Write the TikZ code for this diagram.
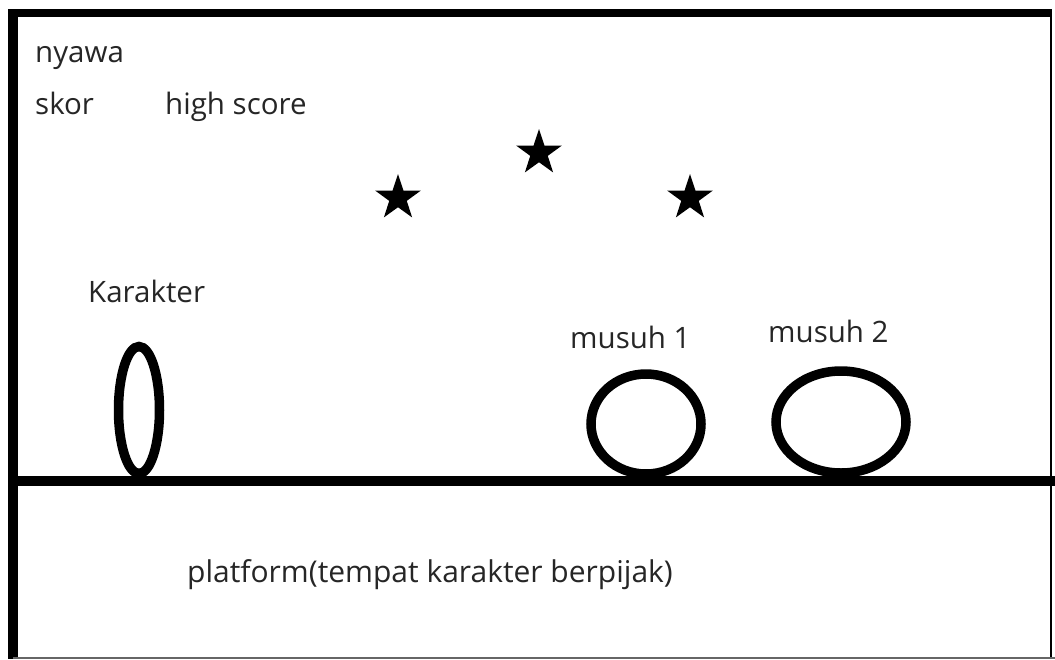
\documentclass[tikz,border=0pt]{standalone}
\usepackage{fontspec}
\usepackage{tikz}
\usetikzlibrary{shapes.geometric,positioning}
\setmainfont{Open Sans}
\definecolor{Ink}{HTML}{262626}
\tikzset{
  label text/.style={anchor=base west,inner sep=0pt,font=\fontsize{29.5}{33}\selectfont,text=Ink},
  body/.style={ellipse,draw=black,line width=9.5pt,inner sep=0pt},
  bonus/.style={star,star points=5,star point ratio=2.6,fill=black,minimum size=48pt,inner sep=0pt}
}
\begin{document}
\begin{tikzpicture}[x=1pt,y=-1pt]
  \useasboundingbox[fill=white] (0,0) rectangle (1055,659);
  % frame of the game screen
  \draw[line width=8pt] (8,13) -- (1052,13);
  \draw[line width=10pt] (13,9) -- (13,659);
  \draw[line width=2pt] (1051,9) -- (1051,659);
  \draw[line width=1.5pt,black!60] (13,658) -- (1055,658);
  % ground
  \draw[line width=10pt] (13,481) -- (1055,481);
  % status texts
  \node[label text] (nyawa) at (35,62) {nyawa};
  \node[label text] (skor) at (35,114) {skor};
  \node[label text] (highscore) at (165,114) {high score};
  % bonus stars
  \node[bonus] (star1) at (398,198) {};
  \node[bonus] (star2) at (539,153) {};
  \node[bonus] (star3) at (690,198) {};
  % player and enemies
  \node[body,minimum width=41pt,minimum height=127pt] (karakter) at (139,410) {};
  \node[body,minimum width=110pt,minimum height=100pt] (musuh1) at (646,424) {};
  \node[body,minimum width=130pt,minimum height=102pt] (musuh2) at (841,422) {};
  \node[label text] (karakterlbl) at (88,302) {Karakter};
  \node[label text] (musuh1lbl) at (570,348) {musuh 1};
  \node[label text] (musuh2lbl) at (768,342) {musuh 2};
  \node[label text,font=\fontsize{30}{34}\selectfont] (platform) at (187,582)
    {platform(tempat karakter berpijak)};
\end{tikzpicture}
\end{document}
